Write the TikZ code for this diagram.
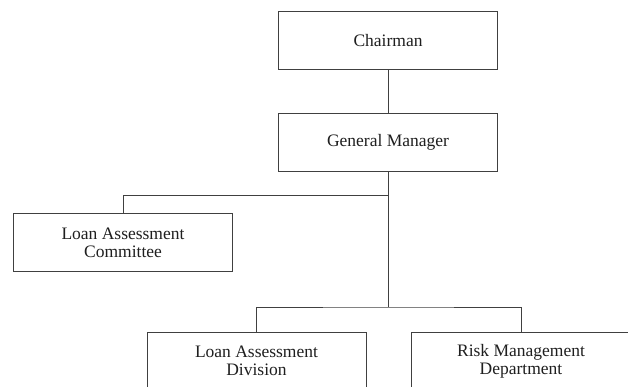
\documentclass[tikz,border=0pt]{standalone}
\usepackage{fontspec}
\setmainfont{Liberation Serif}
\begin{document}
\begin{tikzpicture}[x=1pt,y=1pt,
  orgbox/.style={draw=black!75, line width=0.9pt, fill=white,
    minimum width=219pt, minimum height=58pt, inner sep=0pt,
    align=center, text=black!88,
    font=\fontsize{17.5}{18}\selectfont},
  link/.style={draw=black!75, line width=0.9pt}]
  % page frame
  \clip (0,0) rectangle (628,-386);
  \fill[white] (0,0) rectangle (628,-386);

  % boxes
  \node[orgbox] (ch)  at (388,-40.5)  {Chairman};
  \node[orgbox] (gm)  at (388,-142)   {General Manager};
  \node[orgbox] (lac) at (123,-242.5) {Loan Assessment\\Committee};
  \node[orgbox] (lad) at (256.5,-361) {Loan Assessment\\Division};
  \node[orgbox] (rmd) at (521,-361)   {Risk Management\\Department};

  % junction points on the main trunk
  \coordinate (j1) at (388,-195);
  \coordinate (j2) at (388,-307);

  % connectors
  \draw[link] (ch) -- (gm);
  \draw[link] (gm) -- (j2);
  \draw[link] (j1) -| (lac);
  \draw[link] (lad.north) |- (j2) -| (rmd.north);
\end{tikzpicture}
\end{document}
